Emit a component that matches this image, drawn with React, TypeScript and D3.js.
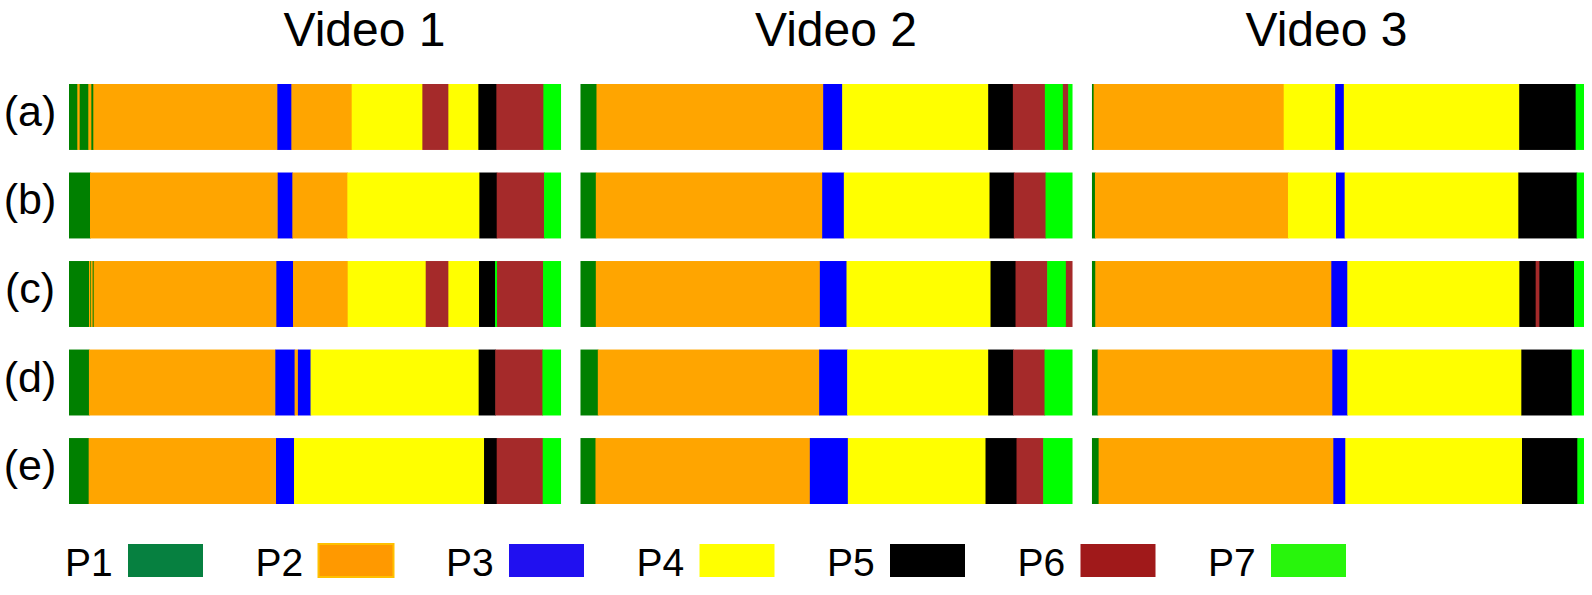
import React from 'react';
import * as d3 from 'd3';

// phases and rows
const phases = ['P1', 'P2', 'P3', 'P4', 'P5', 'P6', 'P7'];
const videos = ['Video 1', 'Video 2', 'Video 3'];
const rowLabels = ['(a)', '(b)', '(c)', '(d)', '(e)'];

// segment lists per row: [phase index, duration]
const video1Segments: [number, number][][] = [
  [[0, 25], [1, 7], [0, 26], [1, 9], [0, 6], [1, 552], [2, 42], [1, 181], [3, 212], [5, 78], [3, 90], [4, 54], [5, 141], [6, 53]],
  [[0, 63], [1, 563], [2, 44], [1, 165], [3, 396], [4, 52], [5, 142], [6, 51]],
  [[0, 60], [1, 4], [0, 2], [1, 5], [0, 3], [1, 548], [2, 50], [1, 164], [3, 234], [5, 68], [3, 92], [4, 48], [6, 6], [5, 138], [6, 54]],
  [[0, 60], [1, 561], [2, 58], [1, 10], [2, 38], [3, 506], [4, 50], [5, 142], [6, 56]],
  [[0, 59], [1, 562], [2, 54], [3, 570], [4, 38], [5, 138], [6, 55]],
];
const video2Segments: [number, number][][] = [
  [[0, 48], [1, 680], [2, 57], [3, 438], [4, 74], [5, 96], [6, 54], [5, 16], [6, 13]],
  [[0, 46], [1, 679], [2, 65], [3, 437], [4, 73], [5, 95], [6, 81]],
  [[0, 46], [1, 672], [2, 80], [3, 432], [4, 75], [5, 95], [6, 56], [5, 20]],
  [[0, 52], [1, 664], [2, 84], [3, 423], [4, 75], [5, 94], [6, 84]],
  [[0, 45], [1, 643], [2, 114], [3, 413], [4, 93], [5, 80], [6, 88]],
];
const video3Segments: [number, number][][] = [
  [[0, 5], [1, 569], [3, 154], [2, 26], [3, 525], [4, 169], [6, 25]],
  [[0, 9], [1, 579], [3, 144], [2, 26], [3, 521], [4, 175], [6, 22]],
  [[0, 10], [1, 708], [2, 48], [3, 516], [4, 49], [5, 11], [4, 104], [6, 30]],
  [[0, 17], [1, 704], [2, 45], [3, 522], [4, 151], [6, 37]],
  [[0, 20], [1, 704], [2, 36], [3, 530], [4, 166], [6, 20]],
];
const allSegments = [video1Segments, video2Segments, video3Segments];

const barColors = ['#008000', '#ffa500', '#0000ff', '#ffff00', '#000000', '#a52a2a', '#00ff00'];
const legendColors = ['#068040', '#ff9900', '#2010f0', '#ffff00', '#000000', '#a0191a', '#28f50c'];

const W = 1592;
const H = 595;
const FONT = '"Liberation Sans", Arial, sans-serif';
const titleX = [364.5, 836, 1326.5];

export default function App() {
  const xBand = d3.scaleBand<string>().domain(videos).range([69, 1584]).paddingInner(0.038);
  const yBand = d3.scaleBand<string>().domain(rowLabels).range([84, 504]).paddingInner(0.255);
  const legendX = d3.scaleLinear().domain([0, phases.length - 1]).range([65, 65 + 6 * 190.5]);

  return (
    <svg width={W} height={H} style={{ position: 'absolute', left: 0, top: 0, background: '#fff' }}>
      {videos.map((v, i) => (
        <text key={v} x={titleX[i]} y={46} textAnchor="middle" fontFamily={FONT} fontSize={48}>
          {v}
        </text>
      ))}
      {rowLabels.map((r) => (
        <text key={r} x={30} y={(yBand(r) as number) + yBand.bandwidth() / 2 + 9} textAnchor="middle" fontFamily={FONT} fontSize={43}>
          {r}
        </text>
      ))}
      {videos.map((v, vi) =>
        allSegments[vi].map((row, ri) => {
          const total = d3.sum(row, (d) => d[1]);
          const x0 = xBand(v) as number;
          const x = d3.scaleLinear().domain([0, total]).range([x0, x0 + xBand.bandwidth()]);
          const y = yBand(rowLabels[ri]) as number;
          let acc = 0;
          return (
            <g key={v + ri}>
              {row.map(([p, len], si) => {
                const start = acc;
                acc += len;
                const last = si === row.length - 1;
                return (
                  <rect
                    key={si}
                    x={x(start)}
                    y={y}
                    width={x(start + len) - x(start) + (last ? 0 : 0.6)}
                    height={yBand.bandwidth()}
                    fill={barColors[p]}
                  />
                );
              })}
            </g>
          );
        })
      )}
      {phases.map((p, i) => (
        <g key={p} transform={`translate(${legendX(i)},0)`}>
          <text x={0} y={576} fontFamily={FONT} fontSize={39}>
            {p}
          </text>
          <rect
            x={63}
            y={544}
            width={75}
            height={33}
            fill={legendColors[i]}
            stroke={i === 1 ? '#ffc000' : 'none'}
            strokeWidth={i === 1 ? 2 : 0}
          />
        </g>
      ))}
    </svg>
  );
}
